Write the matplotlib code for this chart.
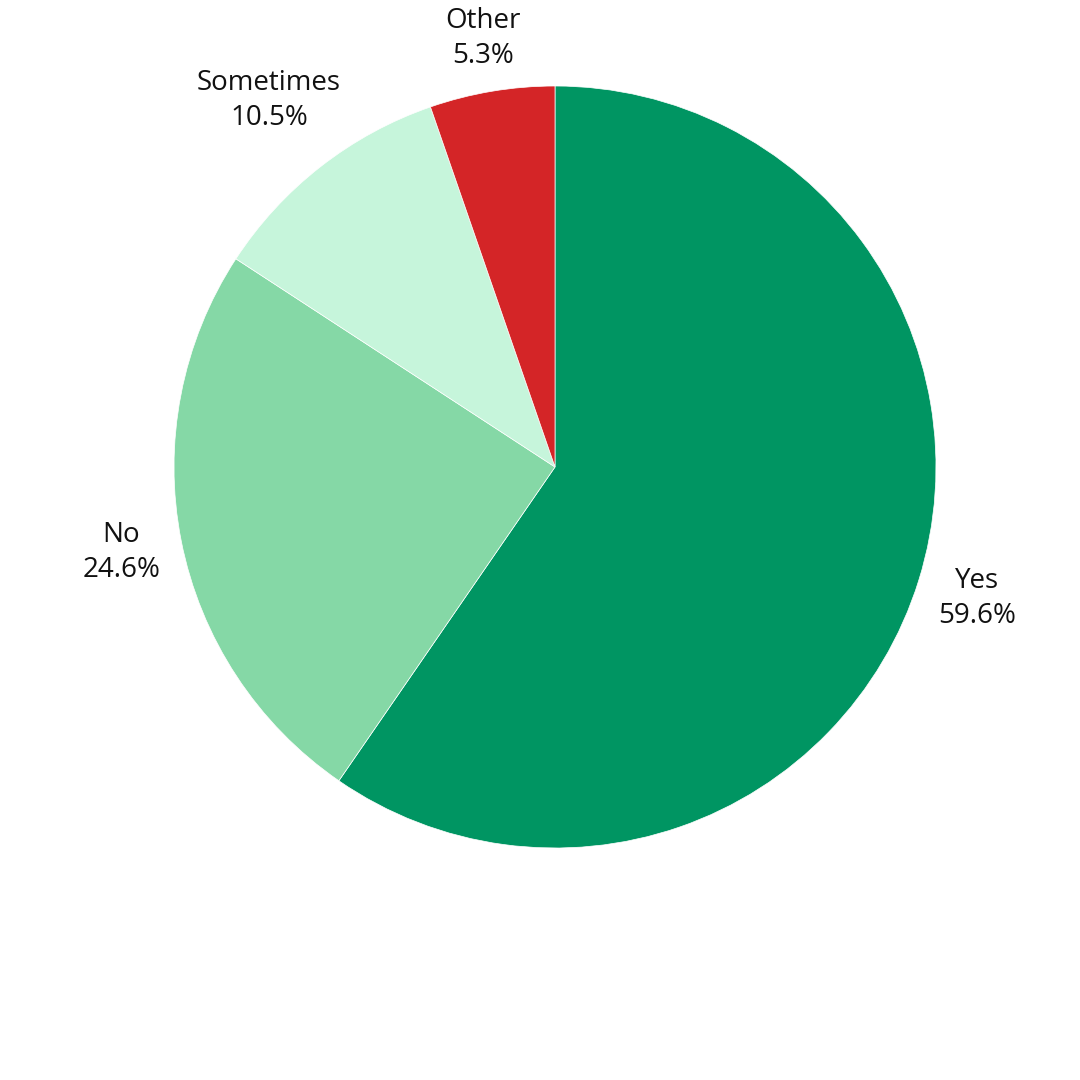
import numpy as np
import matplotlib
matplotlib.use('Agg')
import matplotlib.pyplot as plt

labels = ['Yes', 'No', 'Sometimes', 'Other']
shares = [59.6, 24.6, 10.5, 5.3]
colors = ['#009562', '#85d8a6', '#c6f5db', '#d42527']
# radial distance of each label (in pie radii)
label_dist = [1.16, 1.16, 1.22, 1.14]

plt.rcParams['font.family'] = ['Open Sans', 'DejaVu Sans']

fig = plt.figure(figsize=(10.8, 10.8), dpi=100)
# pie centre at about (555, 467) px, radius about 381 px
ax = fig.add_axes([174 / 1080, 232 / 1080, 762 / 1080, 762 / 1080])

texts = [f'{l}\n{v:.1f}%' for l, v in zip(labels, shares)]
wedges, txts = ax.pie(shares, labels=texts, colors=colors, startangle=90,
                      counterclock=False, labeldistance=1.17,
                      wedgeprops=dict(edgecolor='white', linewidth=0.5),
                      textprops=dict(fontsize=20, color='#111111', linespacing=1.35))
for w, t, d in zip(wedges, txts, label_dist):
    mid = np.deg2rad((w.theta1 + w.theta2) / 2)
    t.set_position((d * np.cos(mid), d * np.sin(mid)))
    t.set_ha('center')
    t.set_va('center')

ax.set_xlim(-1, 1)
ax.set_ylim(-1, 1)
ax.set_aspect('equal')
ax.axis('off')

plt.savefig('out.png', dpi=100)
